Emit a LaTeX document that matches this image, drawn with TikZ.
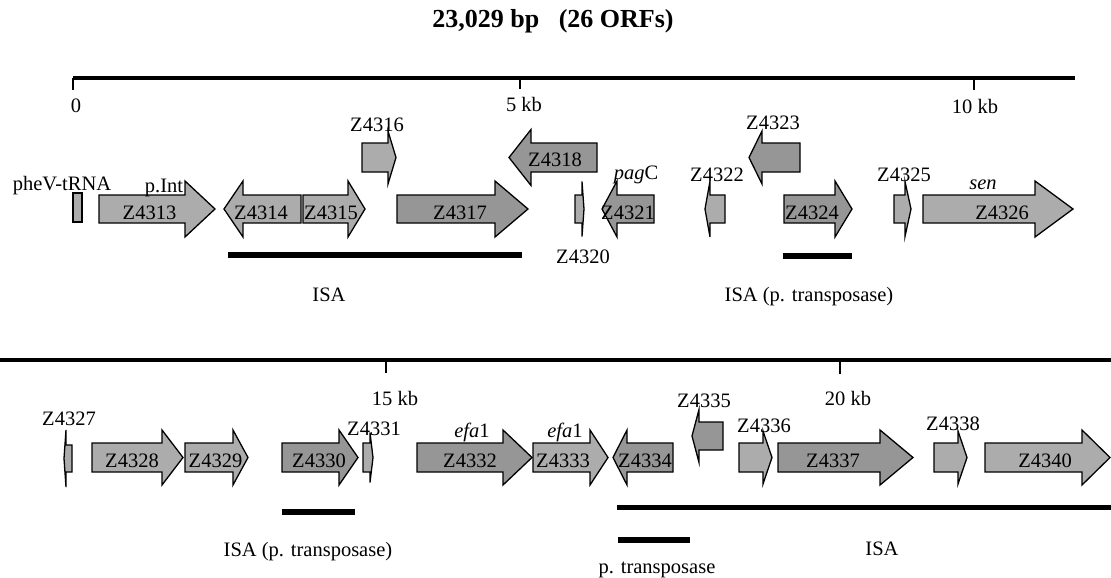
\documentclass[tikz,border=0pt]{standalone}
\usepackage{fontspec}
\setmainfont{Liberation Serif}
\definecolor{genefill}{RGB}{172,172,172}
\definecolor{genedark}{RGB}{150,150,150}
\newcommand\geneArrow[7][]{%
  \draw[gene,#1] (#2,#5-#6) -- (#3,#5-#6) -- (#3,#5-#7) -- (#4,#5) -- (#3,#5+#7) -- (#3,#5+#6) -- (#2,#5+#6) -- cycle;}
\begin{document}
\begin{tikzpicture}[x=1pt,y=-1pt,
  lbl/.style={font=\fontsize{20.5}{24}\selectfont, inner sep=0pt, anchor=base},
  ttl/.style={font=\fontsize{26}{30}\selectfont\bfseries, inner sep=0pt, anchor=base},
  gene/.style={draw=black, line width=1.3pt, fill=genefill, line join=miter},
  dark/.style={fill=genedark},
  rulestyle/.style={line width=3.5pt},
  tickstyle/.style={line width=1.5pt},
  barstyle/.style={line width=5.5pt}]
\useasboundingbox (0,0) rectangle (1111,578);
% title
\node[ttl] (title) at (553,28) {23,029 bp\ \ \ (26 ORFs)};
% top scale
\coordinate (t0) at (73,78); \coordinate (tend) at (1075,78);
\draw[rulestyle] (t0) -- (tend);
\coordinate (k5) at (520,78); \coordinate (k10) at (974,78);
\draw[tickstyle] (t0) -- ++(0,12);
\draw[tickstyle] (k5) -- ++(0,11);
\draw[tickstyle] (k10) -- ++(0,12);
\node[lbl] (l0) at (76,112) {0};
\node[lbl] (l5) at (524,111) {5 kb};
\node[lbl] (l10) at (975,113) {10 kb};
% bottom scale
\coordinate (b0) at (0,360); \coordinate (bend) at (1111,360);
\draw[rulestyle] (b0) -- (bend);
\coordinate (k15) at (386,360); \coordinate (k20) at (840,360);
\draw[tickstyle] (k15) -- ++(0,13);
\draw[tickstyle] (k20) -- ++(0,14);
\node[lbl] (l15) at (395,405) {15 kb};
\node[lbl] (l20) at (848,405) {20 kb};
% ---------- top row genes ----------
\draw[gene] (73,193) rectangle (82,222);
\geneArrow{99}{185}{215}{209}{14}{28}
\geneArrow{301}{243}{224}{209}{14}{28}
\geneArrow{303}{348}{365}{209}{14}{28}
\geneArrow[dark]{397}{495}{528}{209}{14}{28}
\geneArrow{575}{582}{584}{209}{14}{27.5}
\geneArrow[dark]{654}{617}{602}{209}{14}{28}
\geneArrow{725}{710}{705}{209}{14}{28}
\geneArrow[dark]{784}{835}{852}{209}{14}{28}
\geneArrow{894}{905}{911}{209}{14}{27.5}
\geneArrow{923}{1035}{1073}{209}{14}{28}
% upper genes
\geneArrow{362}{388}{396}{157.5}{14.5}{26.5}
\geneArrow[dark]{597}{531}{509}{157.5}{14.5}{28}
\geneArrow[dark]{800}{762}{749}{157.5}{14.5}{26.5}
% top labels
\node[lbl] (trna) at (62,190) {pheV-tRNA};
\node[lbl] (pint) at (164,192) {p.Int};
\node[lbl] (z4313) at (149.5,219) {Z4313};
\node[lbl] (z4314) at (261,219) {Z4314};
\node[lbl] (z4315) at (331,219) {Z4315};
\node[lbl] (z4316) at (377,131) {Z4316};
\node[lbl] (z4317) at (460,219) {Z4317};
\node[lbl] (z4318) at (555,166) {Z4318};
\node[lbl] (z4320) at (583,263) {Z4320};
\node[lbl] (pagc) at (636,179) {\textit{pag}C};
\node[lbl] (z4321) at (628,219) {Z4321};
\node[lbl] (z4322) at (717,181) {Z4322};
\node[lbl] (z4323) at (773,129) {Z4323};
\node[lbl] (z4324) at (812,219) {Z4324};
\node[lbl] (z4325) at (904,181) {Z4325};
\node[lbl] (sen) at (983,189) {\textit{sen}};
\node[lbl] (z4326) at (1002,219) {Z4326};
% top bars
\coordinate (ia1) at (228,255); \coordinate (ia2) at (522,255);
\draw[barstyle] (ia1) -- (ia2);
\coordinate (ib1) at (783,256); \coordinate (ib2) at (852,256);
\draw[barstyle] (ib1) -- (ib2);
\node[lbl] (isa1) at (329,301) {ISA};
\node[lbl] (isa2) at (809,301) {ISA (p. transposase)};
% ---------- bottom row genes ----------
\geneArrow{72}{66}{64}{458.5}{13.5}{28.5}
\geneArrow{92}{162}{183}{457.5}{14.5}{27.5}
\geneArrow{185}{233}{248}{457.5}{14.5}{27.5}
\geneArrow[dark]{282}{339}{358}{457.5}{14.5}{27.5}
\geneArrow{363}{370}{373}{457.5}{14.5}{25}
\geneArrow[dark]{417}{503}{532}{457.5}{14.5}{27.5}
\geneArrow{533}{590}{608}{457.5}{14.5}{27.5}
\geneArrow[dark]{673}{627}{613}{457.5}{14.5}{27.5}
\geneArrow[dark]{723}{699}{692}{436}{14}{26.5}
\geneArrow{739}{763}{772}{457.5}{14.5}{26.5}
\geneArrow[dark]{778}{880}{913}{457.5}{14.5}{27.5}
\geneArrow{934}{958}{967}{457.5}{14.5}{26.5}
\geneArrow{985}{1082}{1110}{457.5}{14.5}{27.5}
% bottom labels
\node[lbl] (z4327) at (69,425) {Z4327};
\node[lbl] (z4328) at (132,467) {Z4328};
\node[lbl] (z4329) at (215.5,467) {Z4329};
\node[lbl] (z4330) at (319,467) {Z4330};
\node[lbl] (z4331) at (374,435) {Z4331};
\node[lbl] (efa1) at (472,437) {\textit{efa}1};
\node[lbl] (z4332) at (470,467) {Z4332};
\node[lbl] (efa2) at (565,437) {\textit{efa}1};
\node[lbl] (z4333) at (563,467) {Z4333};
\node[lbl] (z4334) at (645,467) {Z4334};
\node[lbl] (z4335) at (704,407) {Z4335};
\node[lbl] (z4336) at (764,432) {Z4336};
\node[lbl] (z4337) at (833,467) {Z4337};
\node[lbl] (z4338) at (953,430) {Z4338};
\node[lbl] (z4340) at (1045,467) {Z4340};
% bottom bars
\coordinate (ic1) at (282,512); \coordinate (ic2) at (355,512);
\draw[barstyle] (ic1) -- (ic2);
\coordinate (id1) at (617,507.5); \coordinate (id2) at (1111,507.5);
\draw[barstyle] (id1) -- (id2);
\coordinate (ie1) at (618,540); \coordinate (ie2) at (690,540);
\draw[barstyle] (ie1) -- (ie2);
\node[lbl] (isa3) at (308,556) {ISA (p. transposase)};
\node[lbl] (ptr) at (657,573) {p. transposase};
\node[lbl] (isa4) at (882,555) {ISA};
\end{tikzpicture}
\end{document}
